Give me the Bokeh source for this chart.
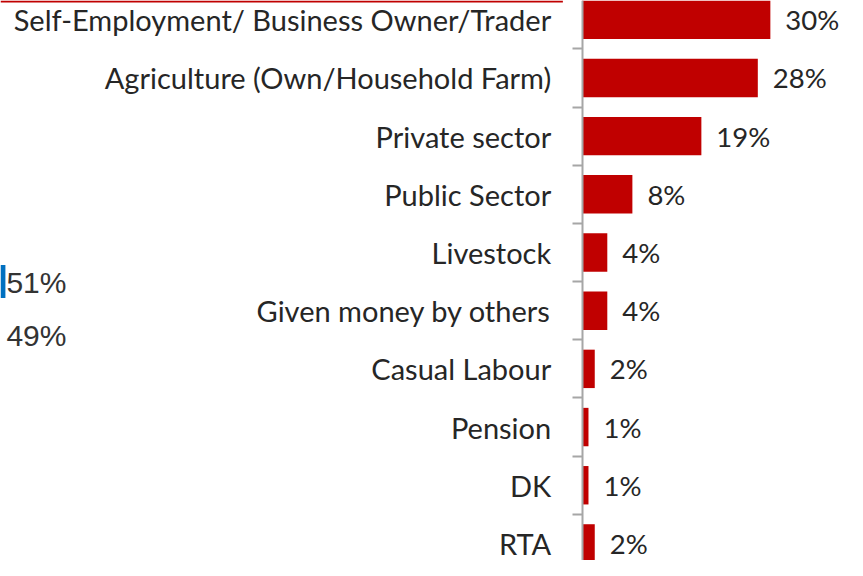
from bokeh.plotting import figure
from bokeh.models import Range1d, FixedTicker, ColumnDataSource
from bokeh.core.properties import value
from bokeh.embed import file_html
from bokeh.resources import INLINE

# ---- data ----
categories = [
    "Self-Employment/ Business Owner/Trader",
    "Agriculture (Own/Household Farm)",
    "Private sector",
    "Public Sector",
    "Livestock",
    "Given money by others",
    "Casual Labour",
    "Pension",
    "DK",
    "RTA",
]
values = [30, 28, 19, 8, 4, 4, 2, 1, 1, 2]
value_labels = [f"{v}%" for v in values]

# fragment of a neighbouring chart visible at the left edge
side_values = [51, 49]
side_labels = [f"{v}%" for v in side_values]

# ---- layout (reference pixels, mapped onto the canvas) ----
W, H = 847, 560
SX, SY = W / 863, H / 576
AXIS_X = 592.7 * SX         # value axis position
PX_PER_PCT = 6.39 * SX      # horizontal scale
ROW = 60.15 * SY * 0.995    # category row height
FIRST_ROW_Y = 19.8 * SY     # centre of first row

def dx(px):
    return (px - AXIS_X) / PX_PER_PCT

def dy(py):
    return (py - FIRST_ROW_Y) / ROW

def rx(ref_px):
    return dx(ref_px * SX)

def ry(ref_py):
    return dy(ref_py * SY)

x_start, x_end = dx(0), dx(W)
y_top, y_bottom = dy(0), dy(H)

RED = "#C00000"
BLUE = "#0070C0"
GREY = "#A6A6A6"
TEXT = "#262626"

p = figure(
    width=W, height=H,
    x_range=Range1d(x_start, x_end),
    y_range=Range1d(y_bottom, y_top),
    output_backend="svg", toolbar_location=None,
    min_border=0, outline_line_color=None,
)
p.xaxis.visible = False
p.xgrid.visible = False
p.ygrid.visible = False
p.background_fill_color = "white"
p.border_fill_color = "white"

idx = list(range(len(categories)))

ax = p.yaxis[0]
ax.fixed_location = 0
ax.ticker = FixedTicker(ticks=idx, minor_ticks=[i + 0.5 for i in range(-1, len(categories))])
ax.major_label_overrides = {i: c for i, c in enumerate(categories)}
ax.major_tick_line_color = None
ax.major_tick_out = 0
ax.major_tick_in = 0
ax.minor_tick_out = 10
ax.minor_tick_in = 0
ax.minor_tick_line_color = GREY
ax.minor_tick_line_width = 2
ax.axis_line_color = GREY
ax.axis_line_width = 2
ax.major_label_standoff = 21
ax.major_label_text_font = "Lato"
ax.major_label_text_font_size = "29px"
ax.major_label_text_color = TEXT

src = ColumnDataSource(dict(idx=idx, val=values, lab=value_labels, cat=categories))

p.hbar(y="idx", left=0, right="val", height=0.66, source=src,
       fill_color=RED, line_color=None)

p.text(x="val", y="idx", text="lab", source=src, x_offset=15,
       text_baseline="middle", text_align="left",
       text_font=value("Lato"), text_font_size="27.5px", text_color=TEXT)

# neighbouring chart fragment (blue bar edge and two labels)
p.quad(left=[x_start], right=[rx(5)], top=[ry(272)], bottom=[ry(306)],
       fill_color=BLUE, line_color=None)
side_src = ColumnDataSource(dict(
    x=[rx(6), rx(6)],
    y=[ry(290), ry(345)],
    t=side_labels,
))
p.text(x="x", y="y", text="t", source=side_src,
       text_baseline="middle", text_align="left",
       text_font=value("Liberation Sans"), text_font_size="30px", text_color="#333333")

# thin red rule at the top-left
p.quad(left=[x_start], right=[rx(573)], top=[y_top], bottom=[ry(2)],
       fill_color=RED, line_color=None)

open("out.html", "w").write(file_html(p, INLINE))
